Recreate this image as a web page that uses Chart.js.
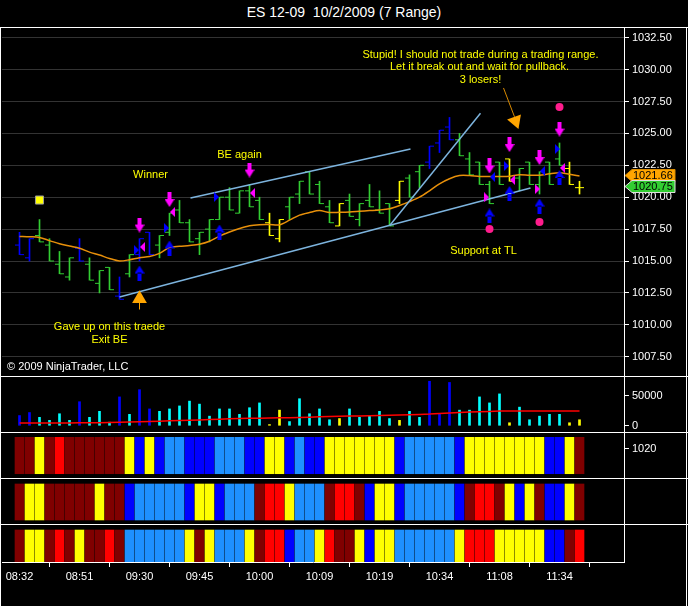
<!DOCTYPE html>
<html><head><meta charset="utf-8">
<script src="https://cdn.jsdelivr.net/npm/chart.js@4.4.0/dist/chart.umd.min.js"></script>
<style>
html,body{margin:0;padding:0;background:#000;width:688px;height:606px;overflow:hidden;font-family:"Liberation Sans",Arial,sans-serif;}
canvas{position:absolute;left:0;}
.hl{position:absolute;left:0;width:688px;height:1px;background:#fff;}
.vl{position:absolute;top:27px;width:1px;height:579px;background:#fff;}
#title{position:absolute;left:0;top:4px;width:688px;text-align:center;color:#fff;font-size:14px;white-space:pre;}
</style></head><body>
<div id="title">ES 12-09  10/2/2009 (7 Range)</div>
<canvas id="cMain" width="688" height="348" style="top:28px"></canvas>
<canvas id="cVol" width="688" height="56" style="top:376px"></canvas>
<canvas id="cP1" width="688" height="46" style="top:432px"></canvas>
<canvas id="cP2" width="688" height="46" style="top:478px"></canvas>
<canvas id="cP3" width="688" height="68" style="top:524px"></canvas>
<div class="hl" style="top:27px"></div>
<div class="hl" style="top:376px"></div>
<div class="hl" style="top:432px"></div>
<div class="hl" style="top:478px"></div>
<div class="hl" style="top:524px"></div>
<div class="vl" style="left:0px"></div>
<div class="vl" style="left:686px"></div>
<script>
// ---------- data ----------
const timeLabels = ['08:32','08:51','09:30','09:45','10:00','10:09','10:19','10:34','11:08','11:34'];
const timeTickIdx = [0,6,12,18,24,30,36,42,48,54];
const priceTicks = [1007.5,1010,1012.5,1015,1017.5,1020,1022.5,1025,1027.5,1030,1032.5];

const high = [1017.25,1016.75,1018.25,1016.75,1015.75,1015.25,1016.75,1015.25,1014.25,1014.5,
1013.75,1015.5,1016.75,1017.25,1017.0,1018.75,1019.75,1018.25,1017.25,1018.25,
1020.0,1020.75,1020.5,1021.0,1020.0,1018.75,1018.25,1020.0,1021.25,1022.0,
1021.25,1019.75,1019.5,1020.25,1019.5,1021.0,1020.5,1019.5,1021.25,1021.75,
1022.5,1024.0,1025.25,1026.25,1025.0,1023.5,1022.75,1021.25,1022.75,1023.0,
1022.25,1022.75,1022.0,1022.75,1024.25,1022.75,1021.25];
const low = [1015.5,1015.0,1016.5,1015.0,1014.0,1013.5,1015.0,1013.5,1012.5,1012.75,
1012.0,1013.75,1015.0,1015.5,1015.25,1017.0,1018.0,1016.5,1015.5,1016.5,
1018.25,1019.0,1018.75,1019.25,1018.25,1017.0,1016.5,1018.25,1019.5,1020.25,
1019.5,1018.0,1017.75,1018.5,1017.75,1019.25,1018.75,1017.75,1019.5,1020.0,
1020.75,1022.25,1023.5,1024.5,1023.25,1021.75,1021.0,1019.5,1021.0,1021.25,
1020.5,1021.0,1020.25,1021.0,1022.5,1021.0,1020.25];
const open = [1016.25,1015.25,1017.0,1016.25,1014.75,1013.75,1016.0,1014.75,1013.25,1014.5,
1012.25,1014.0,1015.5,1017.25,1016.25,1017.25,1019.0,1018.0,1016.75,1017.5,
1018.25,1020.0,1018.75,1020.5,1019.75,1018.0,1016.75,1019.25,1020.25,1022.0,
1021.0,1019.25,1017.75,1019.75,1018.25,1019.75,1019.0,1019.5,1019.75,1021.5,
1022.0,1022.75,1024.25,1025.5,1024.5,1023.0,1022.75,1021.0,1022.75,1023.0,
1021.5,1022.75,1021.0,1022.75,1023.0,1022.25,1020.75];
const close = [1015.5,1016.75,1016.5,1015.0,1014.0,1015.25,1015.0,1013.5,1014.25,1012.75,
1012.0,1015.5,1016.75,1015.5,1017.0,1018.75,1018.0,1016.5,1017.25,1018.25,
1020.0,1019.0,1020.5,1019.25,1018.25,1017.0,1018.25,1020.0,1021.25,1020.25,
1019.5,1018.0,1019.5,1018.5,1019.5,1019.25,1018.75,1017.75,1021.25,1020.0,
1022.5,1024.0,1025.25,1024.5,1023.25,1021.75,1021.0,1019.5,1021.0,1021.25,
1022.25,1021.0,1022.0,1021.0,1022.5,1021.0,1020.75];
const barKind = "bbggggbgggbgbb"+"ggggggggggg"+"yy"+"ggggg"+"y"+"ggggg"+"y"+"gg"+"bbb"+"ggggg"+"y"+"ggggg"+"yy";

const ema = [1016.93,1016.9,1016.85,1016.6,1016.35,1016.17,1016.0,1015.7,1015.47,1015.2,
1015.0,1015.1,1015.26,1015.35,1015.6,1016.05,1016.15,1016.22,1016.32,1016.55,
1016.95,1017.27,1017.55,1017.77,1017.85,1017.86,1017.84,1018.2,1018.6,1018.8,
1018.95,1018.8,1018.82,1018.85,1018.9,1018.95,1019.0,1019.1,1019.35,1019.65,
1020.0,1020.5,1021.05,1021.45,1021.7,1021.7,1021.63,1021.62,1021.63,1021.65,
1021.76,1021.72,1021.72,1021.84,1021.92,1021.8,1021.66];

const volume = [17000,22000,14000,9000,20000,9000,40000,14000,24000,6000,
48000,19000,60000,28000,24000,28000,33000,41000,36000,16000,
28000,28000,19000,30000,38000,2000,26000,7000,45000,20000,
28000,10000,12000,28000,14000,17000,24000,12000,9000,24000,
14000,74000,20000,72000,26000,26000,48000,38000,53000,5000,
31000,10000,16000,19000,19000,5000,10000];
const volumeAvg = [4700,4700,4750,4750,4800,4800,4850,4900,5000,5500,
5900,6200,6600,7100,7600,8200,8800,9300,9800,10400,
11000,11500,12000,12400,12700,12900,13200,13500,13800,14300,
14900,15300,15700,16050,16400,16800,17200,17600,17900,18300,
18900,19400,20300,21100,22000,22800,23400,23900,24500,24500,
24500,24500,24500,24500,24500,24500,24500];
const volumeTicks = [0,50000];

const panel1 = "DDYDRDDDDDD"+"YBYBLLBBBLLLBBYYBLBB"+"YYYYYYYBLLLLLB"+"YYYYYYYYBBYD";
const panel2 = "DYYDDDDDYDD"+"BLLLLLBYYBLLL"+"DRRYLLLDRRDBYY"+"BLLLLLBDRRDYBYDBBYD";
const panel3 = "DYYDRDYDDRD"+"LLLLLLYDYLLLY"+"DRRBLLYRDDYBYY"+"LLLLLLYRRRYYYYYBBDR";
const panel1Label = '1020';

// signal markers (bar index, price)
const sigDownX = [12,15,23,47,49,52,54];
const sigDownY = [1017.82,1019.82,1022.13,1022.45,1024.13,1023.11,1025.34];
const sigUpX = [12,15,20,47,49,52,54];
const sigUpY = [1014.06,1016.02,1017.27,1018.53,1020.29,1019.31,1021.54];
const dotX = [47,52,54];
const dotY = [1017.51,1018.06,1027.07];
const blueRightX = [11.7,14.7,19.7,48.7,53.8];
const blueRightY = [1015.86,1017.59,1020.02,1022.45,1023.78];
const blueLeftX = [47.3,52.3];
const blueLeftY = [1021.58,1022.05];
const magLeftX = [12.3,15.3,23.3,49.3,54.3];
const magLeftY = [1016.1,1018.84,1020.33,1021.35,1022.29];
const magRightX = [46.7,51.8];
const magRightY = [1020.0,1020.64];
const squareX = [2];
const squareY = [1019.78];

// drawn lines
const trendA = [[17.1,1019.94],[39.1,1023.78]];
const trendB = [[10.0,1012.18],[51.1,1020.72]];
const trendC = [[37.0,1017.77],[46.1,1026.58]];
const arrowUpLine = [[12,1011.2],[12,1012.4]];
const arrowUpHead = [[12,1012.05]];
const arrowDnLine = [[48.4,1028.56],[49.5,1026.3]];
const arrowDnHead = [[49.6,1025.97]];

const notes = [
  ['Winner',13.1,1021.74],
  ['BE again',22.0,1023.31],
  ['Stupid! I should not trade during a trading range.',46.1,1031.14],
  ['Let it break out and wait for pullback.',46.0,1030.2],
  ['3 losers!',46.1,1029.18],
  ['Support at TL',46.4,1015.79],
  ['Gave up on this traede',9.0,1009.83],
  ['Exit BE',9.0,1008.81]
];

// ---------- styles ----------
const FONT = '"Liberation Sans", Arial, sans-serif';
Chart.defaults.font.family = FONT;
Chart.defaults.font.size = 11;
Chart.defaults.color = '#fff';
const priceColor = {g:'#32CD32', b:'#0000FF', y:'#FFFF00'};
const volColor = {g:'#00FFFF', b:'#0000FF', y:'#FFFF00'};
const panelColor = {D:'#800000', R:'#FF0000', Y:'#FFFF00', B:'#0000FF', L:'#1E90FF'};
const XMIN = -1.75, XMAX = 60.45;

function shape(kind, color){
  const c = document.createElement('canvas');
  if (kind==='up' || kind==='down'){ c.width=10; c.height=15; } else { c.width=5; c.height=10; }
  const g = c.getContext('2d');
  g.fillStyle = color;
  g.beginPath();
  if (kind==='down'){ g.rect(3,0,4,8); g.moveTo(0,7); g.lineTo(10,7); g.lineTo(5,15); g.closePath(); }
  else if (kind==='up'){ g.rect(3,7,4,8); g.moveTo(0,8); g.lineTo(10,8); g.lineTo(5,0); g.closePath(); }
  else if (kind==='left'){ g.moveTo(5,0); g.lineTo(5,10); g.lineTo(0,5); g.closePath(); }
  else { g.moveTo(0,0); g.lineTo(0,10); g.lineTo(5,5); g.closePath(); }
  g.fill();
  return c;
}
const pts = (xs, ys) => xs.map((x,i)=>({x, y: ys[i]}));
const pairs = a => a.map(p=>({x:p[0], y:p[1]}));
function noPad(s){ s.paddingTop = 0; s.paddingBottom = 0; s.paddingLeft = 0; s.paddingRight = 0; }

function baseOptions(yScale, xScale){
  return {
    responsive:false, animation:false, events:[],
    layout:{autoPadding:false, padding:{left:2,right:0,top:0,bottom:0}},
    plugins:{legend:{display:false}, tooltip:{enabled:false}, title:{display:false}},
    scales:{
      x: Object.assign({type:'linear', min:XMIN, max:XMAX, offset:false, display:false}, xScale||{}),
      y: Object.assign({position:'right', afterFit(s){ s.width = 64; noPad(s); }, border:{display:true, color:'#fff', width:1}}, yScale)
    }
  };
}

// ---------- main price panel ----------
const mainPlugin = {
  id:'mainDeco',
  afterDatasetsDraw(chart){
    const {ctx, chartArea} = chart, x = chart.scales.x, y = chart.scales.y;
    ctx.save();
    ctx.font = '11px ' + FONT;
    ctx.textAlign = 'center'; ctx.textBaseline = 'middle';
    ctx.fillStyle = '#FFFF00';
    notes.forEach(n => ctx.fillText(n[0], x.getPixelForValue(n[1]), y.getPixelForValue(n[2])));
    ctx.textAlign = 'left'; ctx.fillStyle = '#fff';
    ctx.fillText('\u00A9 2009 NinjaTrader, LLC', chartArea.left + 5, chartArea.bottom - 9);
    ctx.restore();
  },
  afterDraw(chart){
    const {ctx, chartArea} = chart, y = chart.scales.y;
    const tags = [[ema[ema.length-1], '#FFA500', '#D88A00'], [close[close.length-1], '#32CD32', '#E0E0E0']];
    ctx.save();
    ctx.font = '11px ' + FONT;
    tags.forEach(t => {
      const yy = Math.round(y.getPixelForValue(t[0]) - 1.5) + 0.5;
      const x0 = chartArea.right + 1;
      ctx.beginPath();
      ctx.moveTo(x0, yy); ctx.lineTo(x0+7, yy-6); ctx.lineTo(x0+50, yy-6); ctx.lineTo(x0+50, yy+6); ctx.lineTo(x0+7, yy+6); ctx.closePath();
      ctx.fillStyle = t[1]; ctx.fill();
      ctx.lineWidth = 1; ctx.strokeStyle = t[2]; ctx.stroke();
      ctx.fillStyle = '#000'; ctx.textAlign = 'left'; ctx.textBaseline = 'middle';
      ctx.fillText(t[0].toFixed(2), x0+8, yy+0.5);
    });
    ctx.restore();
  }
};

const kinds = barKind.split('');
const mainOpts = baseOptions({
  min:1005.99, max:1033.26,
  afterBuildTicks(s){ s.ticks = priceTicks.map(v=>({value:v})); },
  ticks:{color:'#fff', padding:3, callback:v=>Number(v).toFixed(2)},
  grid:{color:'#333333', tickColor:'#fff', tickLength:5, drawOnChartArea:true}
});

new Chart(document.getElementById('cMain'), {
  type:'scatter',
  data:{datasets:[
    {type:'scatter', data:pts(sigDownX,sigDownY), pointStyle:shape('down','#FF00FF'), pointRadius:6, order:0},
    {type:'scatter', data:pts(sigUpX,sigUpY), pointStyle:shape('up','#0000FF'), pointRadius:6, order:0},
    {type:'scatter', data:pts(dotX,dotY), pointStyle:'circle', pointRadius:4, backgroundColor:'#FF1C8C', borderColor:'#FF1C8C', borderWidth:0, order:0},
    {type:'scatter', data:pts(blueRightX,blueRightY), pointStyle:shape('right','#0000FF'), pointRadius:4, order:0},
    {type:'scatter', data:pts(blueLeftX,blueLeftY), pointStyle:shape('left','#0000FF'), pointRadius:4, order:0},
    {type:'scatter', data:pts(magLeftX,magLeftY), pointStyle:shape('left','#FF00FF'), pointRadius:4, order:0},
    {type:'scatter', data:pts(magRightX,magRightY), pointStyle:shape('right','#FF00FF'), pointRadius:4, order:0},
    {type:'scatter', data:pts(squareX,squareY), pointStyle:'rect', pointRadius:5.7, backgroundColor:'#FFFF00', borderColor:'#999999', borderWidth:1, order:0},
    {type:'scatter', data:pairs(arrowUpHead), pointStyle:'triangle', pointRadius:8.5, backgroundColor:'#FFA500', borderColor:'#FFA500', borderWidth:0, order:1},
    {type:'line', data:pairs(arrowUpLine), borderColor:'#FFA500', borderWidth:1, pointRadius:0, order:1},
    {type:'scatter', data:pairs(arrowDnHead), pointStyle:'triangle', rotation:159.6, pointRadius:8.5, backgroundColor:'#FFA500', borderColor:'#FFA500', borderWidth:0, order:1},
    {type:'line', data:pairs(arrowDnLine), borderColor:'#D98A00', borderWidth:1, pointRadius:0, order:1},
    {type:'line', data:pairs(trendA), borderColor:'#7DB4DE', borderWidth:1.5, pointRadius:0, order:2},
    {type:'line', data:pairs(trendB), borderColor:'#7DB4DE', borderWidth:1.5, pointRadius:0, order:2},
    {type:'line', data:pairs(trendC), borderColor:'#7DB4DE', borderWidth:1.5, pointRadius:0, order:2},
    {type:'line', data:ema.map((v,i)=>({x:i,y:v})), borderColor:'#E8900A', borderWidth:1.5, pointRadius:0, tension:0.3, order:3},
    {type:'scatter', data:open.map((v,i)=>({x:i-0.25,y:v})), pointStyle:'line', pointRadius:2, borderWidth:1, borderColor:kinds.map(k=>priceColor[k]), order:4},
    {type:'scatter', data:close.map((v,i)=>({x:i+0.25,y:v})), pointStyle:'line', pointRadius:2, borderWidth:1, borderColor:kinds.map(k=>priceColor[k]), order:4},
    {type:'bar', data:high.map((h,i)=>({x:i, y:[low[i], h]})), barThickness:1, backgroundColor:kinds.map(k=>priceColor[k]), borderWidth:0, order:4}
  ]},
  options: mainOpts,
  plugins:[mainPlugin]
});

// ---------- volume panel ----------
new Chart(document.getElementById('cVol'), {
  type:'bar',
  data:{datasets:[
    {type:'line', data:volumeAvg.map((v,i)=>({x:i,y:v})), borderColor:'#FF0000', borderWidth:1.5, pointRadius:0, order:0},
    {type:'bar', data:volume.map((v,i)=>({x:i,y:v})), barThickness:2, backgroundColor:kinds.map(k=>volColor[k]), borderWidth:0, order:1}
  ]},
  options: baseOptions({
    min:-10345, max:82760,
    afterBuildTicks(s){ s.ticks = volumeTicks.map(v=>({value:v})); },
    ticks:{color:'#fff', padding:3, callback:v=>String(v)},
    grid:{color:'#fff', drawOnChartArea:false, tickLength:5}
  })
});

// ---------- colour panels ----------
function panelChart(id, codes, yLimits, yExtra, xExtra){
  return new Chart(document.getElementById(id), {
    type:'bar',
    data:{datasets:[
      {type:'bar', data:codes.split('').map((c,i)=>({x:i, y:[0,1]})), barThickness:9, backgroundColor:codes.split('').map(c=>panelColor[c]), borderWidth:0}
    ]},
    options: baseOptions(Object.assign({min:yLimits[0], max:yLimits[1]}, yExtra), xExtra)
  });
}
panelChart('cP1', panel1, [-0.118, 1.146], {
  afterBuildTicks(s){ s.ticks = [{value:0.679}]; },
  ticks:{color:'#fff', padding:3, callback:()=>panel1Label},
  grid:{color:'#fff', drawOnChartArea:false, tickLength:5}
});
panelChart('cP2', panel2, [-0.111, 1.1667], {ticks:{display:false}, grid:{display:false}});
panelChart('cP3', panel3, [-0.01, 1.19], {ticks:{display:false}, grid:{display:false}}, {
  display:true,
  afterFit(s){ s.height = 30; noPad(s); },
  afterBuildTicks(s){ s.ticks = timeTickIdx.map(v=>({value:v})); },
  ticks:{color:'#fff', padding:3, maxRotation:0, autoSkip:false, callback:(v,i)=>timeLabels[i]},
  grid:{color:'#fff', drawOnChartArea:false, tickLength:5},
  border:{display:true, color:'#fff', width:1}
});
</script>
</body></html>
